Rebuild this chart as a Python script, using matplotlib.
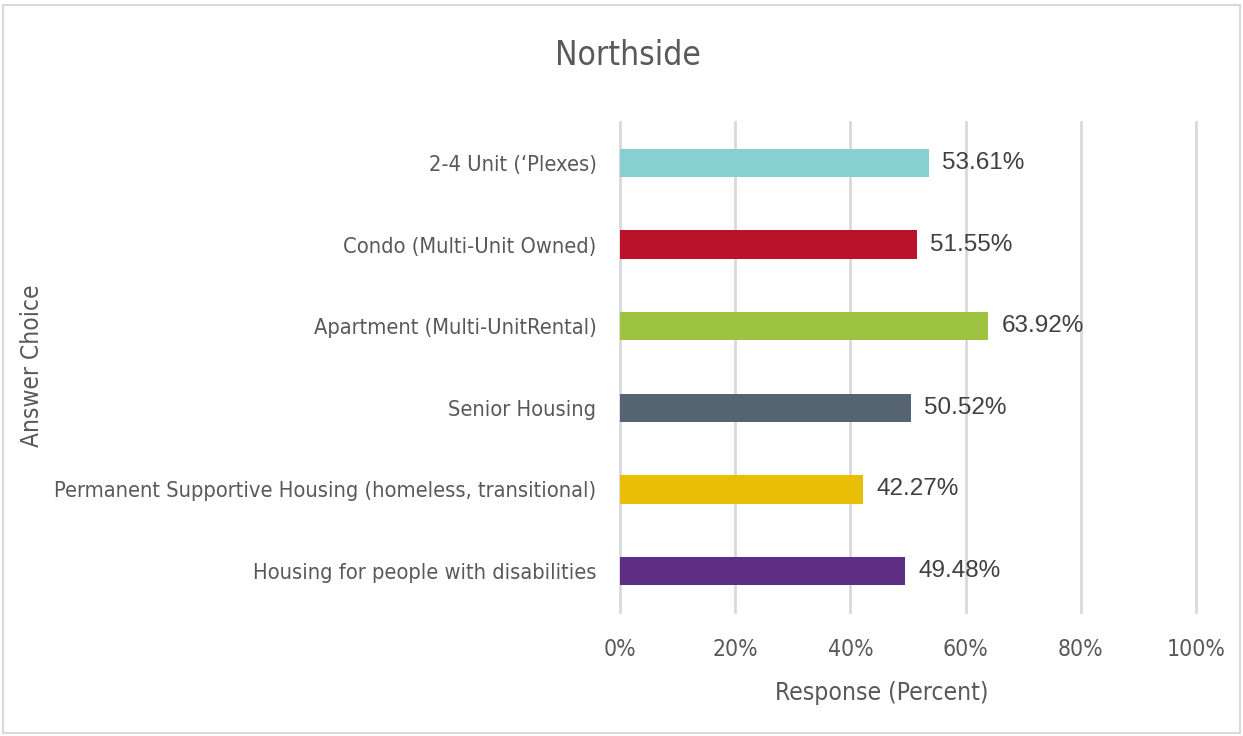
import matplotlib.pyplot as plt
from matplotlib.patches import Rectangle
from matplotlib.ticker import PercentFormatter

# Share of responses per housing type, top to bottom as listed
categories = [
    "2-4 Unit (\u2018Plexes)",
    "Condo (Multi-Unit Owned)",
    "Apartment (Multi-UnitRental)",
    "Senior Housing",
    "Permanent Supportive Housing (homeless, transitional)",
    "Housing for people with disabilities",
]
responses = [53.61, 51.55, 63.92, 50.52, 42.27, 49.48]
bar_colors = ["#88CFD1", "#BA122B", "#9DC341", "#566472", "#E8BE07", "#5D2E84"]
x_ticks = [0, 20, 40, 60, 80, 100]

TEXT_GREY = "#595959"
narrow = dict(family="DejaVu Sans", fontstretch="condensed")

fig = plt.figure(figsize=(12.43, 7.36), dpi=100)
ax = fig.add_axes([0.4988, 0.1685, 0.4634, 0.6657])

# first category on top
ypos = list(range(len(categories)))[::-1]
ax.barh(ypos, responses, height=0.35, color=bar_colors, zorder=3)

for y, v in zip(ypos, responses):
    ax.text(v + 2.3, y, f"{v:.2f}%", va="center", ha="left",
            fontsize=17.5, color="#404040", family="Liberation Sans")

ax.set_xlim(0, 100)
ax.set_ylim(-0.5, len(categories) - 0.5)
ax.set_xticks(x_ticks)
ax.xaxis.set_major_formatter(PercentFormatter(decimals=0))
ax.set_yticks(ypos)
ax.set_yticklabels(categories)
ax.grid(axis="x", color="#D9D9D9", linewidth=2, zorder=0)
# keep the 0% and 100% gridlines at full width
for gl in ax.get_xgridlines():
    gl.set_clip_on(False)
ax.tick_params(axis="y", length=0, pad=17, labelsize=15.7, labelcolor=TEXT_GREY)
ax.tick_params(axis="x", length=0, pad=19, labelsize=16.5, labelcolor=TEXT_GREY)
for lbl in ax.get_xticklabels() + ax.get_yticklabels():
    lbl.set_family(narrow["family"])
    lbl.set_stretch(narrow["fontstretch"])
for s in ax.spines.values():
    s.set_visible(False)

ax.set_xlabel("Response (Percent)", fontsize=17.7, color=TEXT_GREY, **narrow)
ax.xaxis.set_label_coords(0.455, -0.141)

fig.text(0.026, 0.503, "Answer Choice", rotation=90, ha="center", va="center",
         fontsize=17.6, color=TEXT_GREY, **narrow)
fig.text(0.505, 0.925, "Northside", ha="center", va="center",
         fontsize=24, color=TEXT_GREY, **narrow)

# light frame round the chart area
fig.patches.append(Rectangle((3 / 1243, 3 / 736), 1237 / 1243, 728 / 736,
                             transform=fig.transFigure, fill=False,
                             edgecolor="#D9D9D9", linewidth=1.5))

fig.savefig("out.png", dpi=100)
